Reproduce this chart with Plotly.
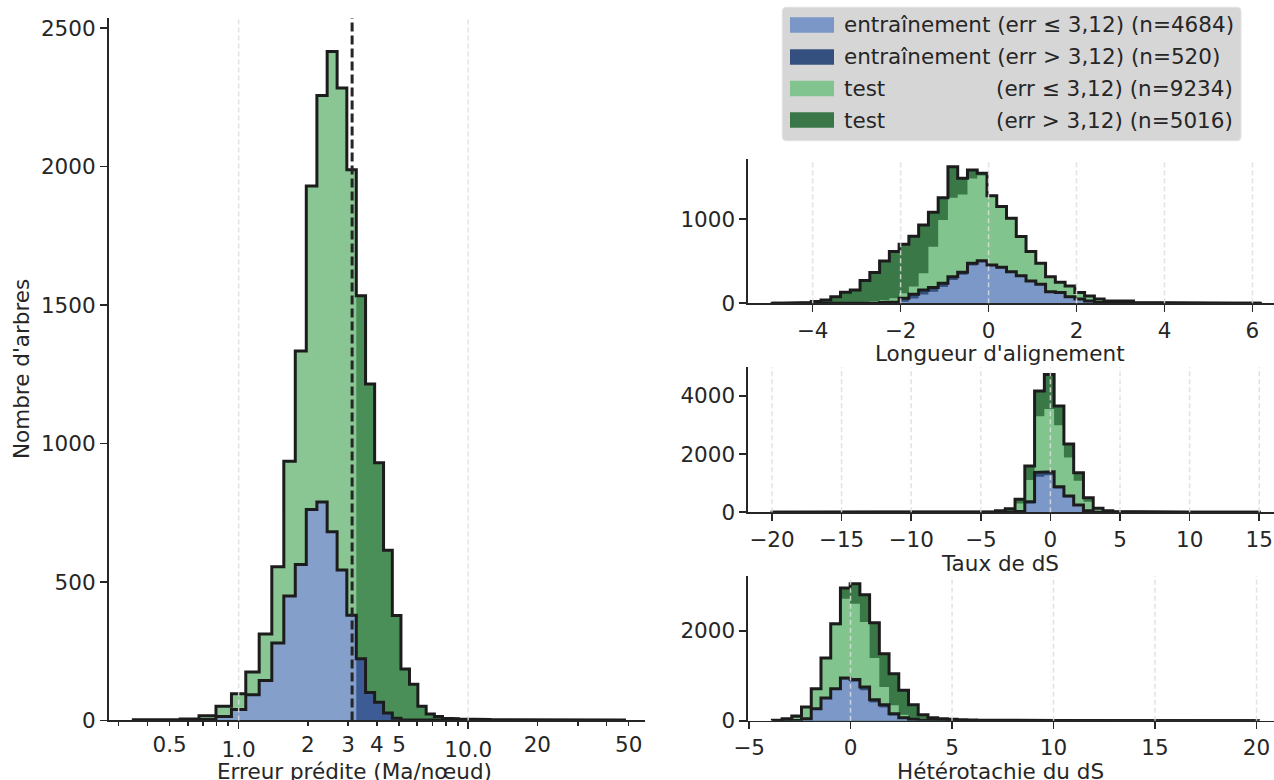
import numpy as np
import plotly.graph_objects as go

W, H = 1274, 780
FONT = "DejaVu Sans"
TXT = "#262626"
FS = 21.5

THRESHOLD = 3.12

# ---------------- Left panel : predicted error (bins equal in log10(1+err)) -------------
ERR_LOG1P_FIRST_EDGE = 0.1296
ERR_LOG1P_BIN_WIDTH = 0.0312
N_BINS = 50
err_train_le = [0, 0, 0, 3, 14, 39, 93, 144, 280, 449, 563, 762, 789, 681, 543, 380,
                0, 0, 0, 0, 0, 0, 0, 0, 0, 0, 0, 0, 0, 0, 0, 0, 0, 0, 0, 0, 0, 0, 0, 0,
                0, 0, 0, 0, 0, 0, 0, 0, 0, 0]
err_train_gt = [0, 0, 0, 0, 0, 0, 0, 0, 0, 0, 0, 0, 0, 0, 0, 0,
                223, 101, 66, 27, 8, 2, 1, 0, 0, 0, 0, 0, 0, 0, 0, 0, 0, 0, 0, 0, 0, 0, 0, 0,
                0, 0, 0, 0, 0, 0, 0, 0, 0, 0]
err_test_le = [2, 2, 5, 14, 37, 57, 82, 168, 275, 487, 771, 1168, 1468, 1735, 1741, 1609,
               0, 0, 0, 0, 0, 0, 0, 0, 0, 0, 0, 0, 0, 0, 0, 0, 0, 0, 0, 0, 0, 0, 0, 0,
               0, 0, 0, 0, 0, 0, 0, 0, 0, 0]
err_test_gt = [0, 0, 0, 0, 0, 0, 0, 0, 0, 0, 0, 0, 0, 0, 0, 0,
               1311, 1114, 865, 588, 371, 184, 130, 51, 23, 14, 8, 6, 5, 4, 3, 3, 2, 2, 2,
               1, 1, 1, 1, 1, 1, 1, 1, 1, 2, 2, 1, 1, 1, 1]

# ---------------- Right panels -------------
len_bin_range = (-4.92, 6.18)
len_train_le = [0, 0, 0, 0, 0, 0, 0, 0, 0, 0, 1, 2, 2, 19, 57, 103, 136, 192, 276, 338,
                449, 486, 440, 415, 365, 320, 259, 220, 134, 124, 77, 51, 28, 12, 6, 3, 2, 1,
                0, 0, 0, 0, 0, 0, 0, 0, 0, 0, 0, 0]
len_train_gt = [0, 0, 0, 0, 0, 0, 0, 0, 2, 3, 4, 8, 14, 40, 50, 55, 50, 45, 40, 30,
                25, 20, 15, 12, 10, 8, 6, 5, 4, 3, 2, 0, 0, 0, 0, 0, 0, 0, 0, 0,
                0, 0, 0, 0, 0, 0, 0, 0, 0, 0]
len_test_le = [0, 0, 1, 1, 2, 3, 5, 8, 10, 15, 20, 30, 45, 61, 93, 198, 485, 751, 937, 922,
               1006, 1009, 805, 705, 621, 453, 340, 243, 173, 118, 123, 73, 56, 37, 20, 23, 22, 8, 7, 6,
               4, 3, 2, 2, 1, 1, 1, 1, 1, 1]
len_test_gt = [2, 3, 4, 9, 18, 37, 74, 122, 146, 251, 339, 462, 552, 580, 595, 573, 409, 265, 368, 193,
               102, 27, 17, 15, 12, 10, 8, 6, 5, 4, 4, 3, 3, 2, 2, 2, 2, 1, 1, 1,
               1, 1, 1, 1, 1, 1, 1, 0, 0, 0]

rate_bin_range = (-20.09, 15.01)
rate_train_le = [0] * 24 + [5, 15, 305, 1223, 1270, 820, 520, 230, 48, 7, 4, 2, 1] + [0] * 13
rate_train_gt = [0] * 24 + [5, 15, 60, 150, 120, 60, 40, 20, 8, 3] + [0] * 16
rate_test_le = [0, 0, 0, 0, 0, 0, 0, 0, 0, 0, 0, 0, 0, 1, 1, 1, 1, 1, 2, 2,
                3, 4, 5, 15, 30, 270, 745, 1927, 2160, 2110, 1320, 830, 309, 103, 36, 20, 11, 8, 6, 5,
                4, 3, 2, 2, 1, 1, 1, 0, 1, 0]
rate_test_gt = [1, 0, 1, 0, 1, 1, 0, 1, 1, 1, 1, 1, 1, 1, 1, 1, 2, 2, 2, 3,
                4, 6, 10, 35, 80, 145, 480, 867, 1189, 662, 467, 281, 138, 23, 16, 8, 6, 4, 4, 3,
                2, 2, 2, 1, 1, 1, 1, 1, 0, 1]

het_bin_range = (-3.85, 20.1)
het_train_le = [0, 0, 10, 45, 262, 494, 691, 918, 868, 679, 407, 296, 116, 42, 18, 5, 1] + [0] * 33
het_train_gt = [0, 0, 0, 0, 5, 10, 20, 30, 50, 70, 60, 60, 40, 25, 12, 5, 2] + [0] * 33
het_test_le = [3, 20, 50, 245, 433, 876, 1409, 1764, 1682, 1444, 926, 392, 185, 67, 15, 13, 9, 8, 5, 4,
               3, 2, 2, 1, 1] + [0] * 25
het_test_gt = [7, 25, 44, 14, 11, 13, 36, 237, 445, 607, 785, 741, 704, 540, 311, 111, 55, 37, 25, 19,
               12, 8, 6, 5, 4, 4, 3, 3, 2, 2, 1, 1, 1, 0, 1, 1, 0, 1, 0, 1,
               1, 0, 0, 1, 0, 0, 1, 0, 0, 1]

legend_labels = ["entraînement (err ≤ 3,12) (n=4684)",
                 "entraînement (err > 3,12) (n=520)",
                 "test", "test"]
legend_suffix = ["", "", "(err ≤ 3,12) (n=9234)", "(err > 3,12) (n=5016)"]

# colors
C_RIGHT = ["#7b98c8", "#34507f", "#81c48e", "#3b7847"]
C_LEFT = ["#849fca", "#3d5b95", "#8ac594", "#4a8f57"]
C_LEG = ["#7b97c8", "#34507e", "#82c48f", "#3a7748"]
OUTLINE = "#1c1c1c"


def px(x):
    return x / W


def py(y):
    return 1 - y / H


def step_xy(edges, counts):
    xs, ys = [edges[0]], [0.0]
    for i, c in enumerate(counts):
        xs += [edges[i], edges[i + 1]]
        ys += [float(c), float(c)]
    xs.append(edges[-1])
    ys.append(0.0)
    return xs, ys


fig = go.Figure()


def add_panel(edges, series, colors, xa, ya):
    s1 = np.array(series[0], dtype=float)
    s2 = s1 + np.array(series[1])
    s3 = s2 + np.array(series[2])
    s4 = s3 + np.array(series[3])
    for cum, col in [(s4, colors[3]), (s3, colors[2]), (s2, colors[1]), (s1, colors[0])]:
        xs, ys = step_xy(edges, cum)
        fig.add_trace(go.Scatter(x=xs, y=ys, mode="lines", line=dict(width=0, color=col),
                                 fill="tozeroy", fillcolor=col, xaxis=xa, yaxis=ya,
                                 hoverinfo="skip", showlegend=False))
    for cum in [s2, s4]:
        xs, ys = step_xy(edges, cum)
        fig.add_trace(go.Scatter(x=xs, y=ys, mode="lines", line=dict(width=3, color=OUTLINE),
                                 xaxis=xa, yaxis=ya, hoverinfo="skip", showlegend=False))


err_edges = 10 ** (ERR_LOG1P_FIRST_EDGE + ERR_LOG1P_BIN_WIDTH * np.arange(N_BINS + 1)) - 1
add_panel(err_edges, [err_train_le, err_train_gt, err_test_le, err_test_gt], C_LEFT, "x", "y")
add_panel(np.linspace(*len_bin_range, N_BINS + 1),
          [len_train_le, len_train_gt, len_test_le, len_test_gt], C_RIGHT, "x2", "y2")
add_panel(np.linspace(*rate_bin_range, N_BINS + 1),
          [rate_train_le, rate_train_gt, rate_test_le, rate_test_gt], C_RIGHT, "x3", "y3")
add_panel(np.linspace(*het_bin_range, N_BINS + 1),
          [het_train_le, het_train_gt, het_test_le, het_test_gt], C_RIGHT, "x4", "y4")
# invisible trace anchoring overlay axis for major ticks
fig.add_trace(go.Scatter(x=[1], y=[0], xaxis="x5", yaxis="y", mode="markers",
                         marker=dict(opacity=0), hoverinfo="skip", showlegend=False))

axis_common = dict(showline=True, linecolor=TXT, linewidth=1.6, ticks="outside", ticklen=7,
                   tickwidth=1.6, tickcolor=TXT, showgrid=False, zeroline=False,
                   tickfont=dict(family=FONT, size=FS, color=TXT))

minor_vals = [0.3, 0.4, 0.5, 0.6, 0.7, 0.8, 0.9, 2, 3, 4, 5, 6, 7, 8, 9, 20, 30, 40, 50]
minor_text = ["", "", "0.5", "", "", "", "", "2", "3", "4", "5", "", "", "", "", "20", "", "", "50"]
left_xdom = [px(108.5), px(645)]
left_xrange = [-0.567, 1.770]
right_xdom = [px(748), 1]

layout_axes = dict(
    xaxis=dict(axis_common, domain=left_xdom, anchor="y", type="log", range=left_xrange,
               tickmode="array", tickvals=minor_vals, ticktext=minor_text, ticklen=4),
    xaxis5=dict(axis_common, domain=left_xdom, anchor="y", overlaying="x", type="log",
                range=left_xrange, tickmode="array", tickvals=[1, 10], ticktext=["1.0", "10.0"],
                ticklen=8, showline=False, ticklabelstandoff=2),
    yaxis=dict(axis_common, domain=[py(720.4), py(18)], anchor="x", range=[0, 2537],
               tickmode="array", tickvals=[0, 500, 1000, 1500, 2000, 2500]),
    xaxis2=dict(axis_common, domain=right_xdom, anchor="y2", range=[-5.47, 6.49],
                tickmode="array", tickvals=[-4, -2, 0, 2, 4, 6],
                ticktext=["−4", "−2", "0", "2", "4", "6"]),
    yaxis2=dict(axis_common, domain=[py(303.3), py(159.3)], anchor="x2", range=[0, 1708],
                tickmode="array", tickvals=[0, 1000]),
    xaxis3=dict(axis_common, domain=right_xdom, anchor="y3", range=[-21.72, 16.06],
                tickmode="array", tickvals=[-20, -15, -10, -5, 0, 5, 10, 15],
                ticktext=["−20", "−15", "−10", "−5", "0", "5", "10", "15"]),
    yaxis3=dict(axis_common, domain=[py(512.3), py(367.3)], anchor="x3", range=[0, 4983],
                tickmode="array", tickvals=[0, 2000, 4000]),
    xaxis4=dict(axis_common, domain=right_xdom, anchor="y4", range=[-5.05, 20.86],
                tickmode="array", tickvals=[-5, 0, 5, 10, 15, 20],
                ticktext=["−5", "0", "5", "10", "15", "20"]),
    yaxis4=dict(axis_common, domain=[py(720.7), py(576)], anchor="x4", range=[0, 3216],
                tickmode="array", tickvals=[0, 2000]),
)

shapes = []
GRID = dict(color="rgba(222,222,222,0.85)", width=1.5, dash="5px,3px")
grid_spec = [("x", "y", [1, 10]), ("x2", "y2", [-4, -2, 0, 2, 4, 6]),
             ("x3", "y3", [-20, -15, -10, -5, 0, 5, 10, 15]),
             ("x4", "y4", [0, 5, 10, 15, 20])]
for xr, yr, vals in grid_spec:
    for v in vals:
        shapes.append(dict(type="line", xref=xr, yref=yr + " domain", x0=v, x1=v, y0=0, y1=1,
                           line=GRID, layer="above"))
# threshold line
shapes.append(dict(type="line", xref="x", yref="y domain", x0=THRESHOLD, x1=THRESHOLD, y0=0, y1=1,
                   line=dict(color=TXT, width=3, dash="9px,4px"), layer="above"))

# legend box
x0, x1, y0, y1 = px(782.3), px(1241), py(140.7), py(7.3)
rx, ry = 4 / W, 4 / H
path = (f"M {x0+rx},{y0} L {x1-rx},{y0} Q {x1},{y0} {x1},{y0+ry} L {x1},{y1-ry} "
        f"Q {x1},{y1} {x1-rx},{y1} L {x0+rx},{y1} Q {x0},{y1} {x0},{y1-ry} "
        f"L {x0},{y0+ry} Q {x0},{y0} {x0+rx},{y0} Z")
shapes.append(dict(type="path", xref="paper", yref="paper", path=path,
                   fillcolor="#d6d6d6", line=dict(color="#e2e2e2", width=1), layer="above"))
row_y = [25, 57, 88.5, 120]
annotations = []
for i, yc in enumerate(row_y):
    shapes.append(dict(type="rect", xref="paper", yref="paper", x0=px(790), x1=px(834),
                       y0=py(yc + 7.8), y1=py(yc - 7.8), fillcolor=C_LEG[i],
                       line=dict(width=0), layer="above"))
    annotations.append(dict(xref="paper", yref="paper", x=px(842), y=py(yc), text=legend_labels[i],
                            showarrow=False, xanchor="left", yanchor="middle",
                            font=dict(family=FONT, size=FS, color=TXT)))
    if legend_suffix[i]:
        annotations.append(dict(xref="paper", yref="paper", x=px(994), y=py(yc),
                                text=legend_suffix[i], showarrow=False, xanchor="left",
                                yanchor="middle", font=dict(family=FONT, size=FS, color=TXT)))

titles = [("Erreur prédite (Ma/nœud)", 354, 771, 0),
          ("Nombre d'arbres", 21, 369, -90),
          ("Longueur d'alignement", 1000, 354, 0),
          ("Taux de dS", 1000, 563, 0),
          ("Hétérotachie du dS", 1000, 771, 0)]
for t, xx, yy, ang in titles:
    annotations.append(dict(xref="paper", yref="paper", x=px(xx), y=py(yy), text=t,
                            showarrow=False, xanchor="center", yanchor="middle", textangle=ang,
                            font=dict(family=FONT, size=FS, color=TXT)))

fig.update_layout(width=W, height=H, margin=dict(l=0, r=0, t=0, b=0),
                  template="none", paper_bgcolor="white", plot_bgcolor="white",
                  font=dict(family=FONT, color=TXT), showlegend=False,
                  shapes=shapes, annotations=annotations, **layout_axes)

fig.write_html("out.html", config={"displayModeBar": False, "staticPlot": True},
               post_script="document.body.style.margin='0';document.body.style.overflow='hidden';")
